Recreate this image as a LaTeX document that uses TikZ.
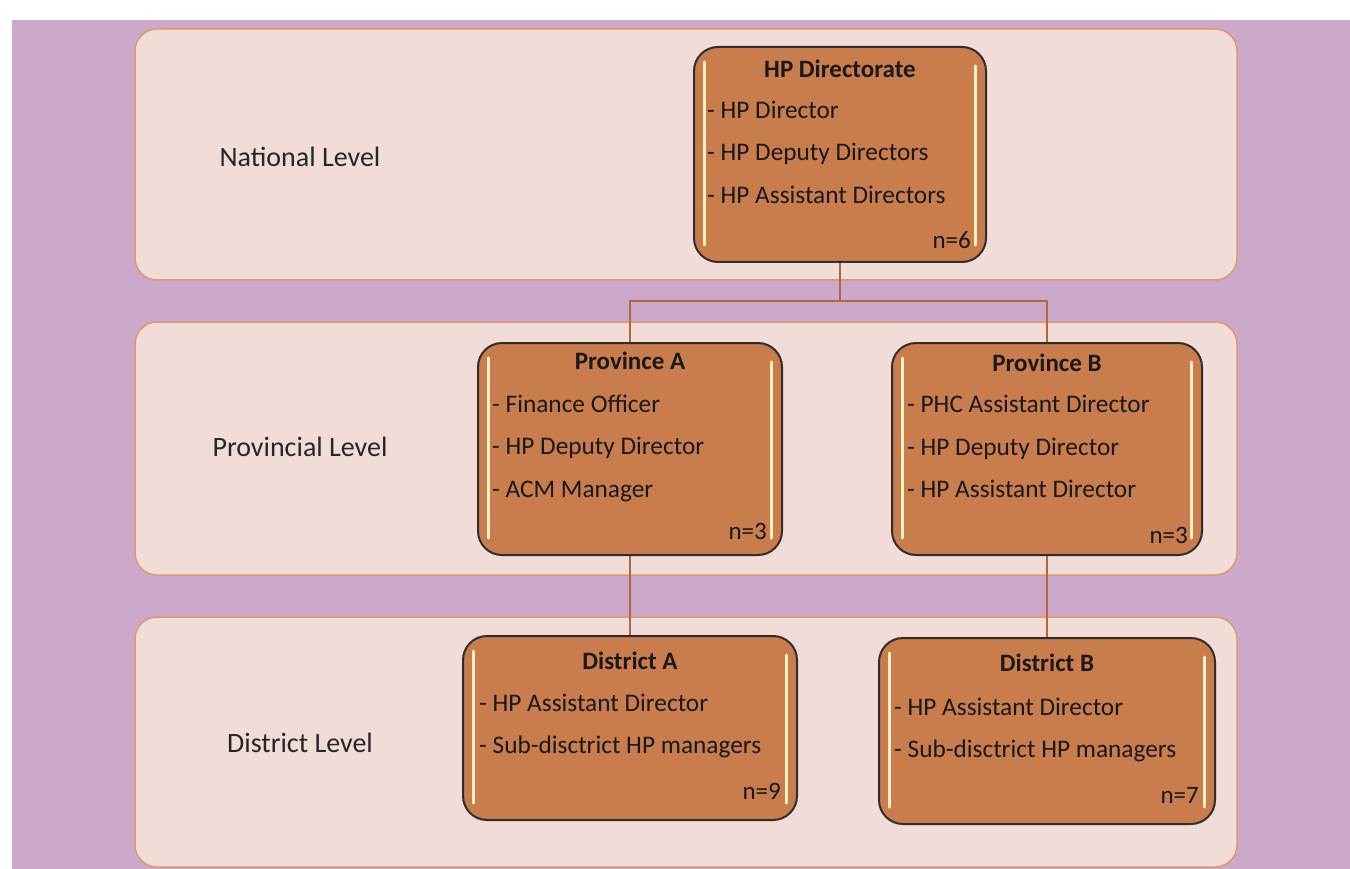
\documentclass[tikz,border=0pt]{standalone}
\usepackage{fontspec}
\setmainfont{Carlito}
\usetikzlibrary{positioning,calc}
\definecolor{bgpurple}{HTML}{CCA9CB}
\definecolor{bandfill}{HTML}{F2DCD7}
\definecolor{bandline}{HTML}{E0996C}
\definecolor{boxfill}{HTML}{C97D4D}
\definecolor{boxline}{HTML}{2E2E2E}
\definecolor{linkline}{HTML}{AD6842}
\definecolor{hilite}{HTML}{FFF3C4}
\tikzset{
  band/.style={draw=bandline,line width=1.5pt,fill=bandfill,rounded corners=22pt,
               minimum width=1102pt,inner sep=0pt},
  lvl/.style={font=\fontsize{28}{34}\selectfont,text=black!85,inner sep=0pt},
  unit/.style={draw=boxline,line width=2pt,fill=boxfill,rounded corners=24pt,inner sep=0pt},
  ttl/.style={font=\fontsize{25}{30}\selectfont\bfseries,text=black!90,inner sep=0pt,anchor=base},
  item/.style={font=\fontsize{25.3}{30}\selectfont,text=black!90,inner sep=0pt,anchor=base west},
  cnt/.style={font=\fontsize{25}{30}\selectfont,text=black!90,inner sep=0pt,anchor=base east},
  link/.style={draw=linkline,line width=2.8pt},
  shine/.style={draw=hilite,line width=3pt,line cap=round},
}
\begin{document}
\begin{tikzpicture}[x=1pt,y=-1pt]
\useasboundingbox (0,0) rectangle (1350,869);
\fill[white] (0,0) rectangle (1350,869);
\fill[bgpurple] (12,20) rectangle (1350,869);

% level bands
\node[band,minimum height=251pt] (nat) at (686,154.5) {};
\node[band,minimum height=253pt] (prv) at (686,448.5) {};
\node[band,minimum height=250pt] (dst) at (686,742) {};

\node[lvl] (nat-l) at (300,157) {National Level};
\node[lvl] (prv-l) at (300,447) {Provincial Level};
\node[lvl] (dst-l) at (300,743) {District Level};

% units
\node[unit,minimum width=292pt,minimum height=215pt] (dir) at (840,154.5) {};
\node[unit,minimum width=304pt,minimum height=212pt] (pa) at (630,449) {};
\node[unit,minimum width=310pt,minimum height=212pt] (pb) at (1047,449) {};
\node[unit,minimum width=334pt,minimum height=184pt] (da) at (630,728) {};
\node[unit,minimum width=336pt,minimum height=186pt] (db) at (1047,731) {};

\foreach \b in {dir,pa,pb,da,db} {
  \draw[shine] ($(\b.north west)+(11,16)$) -- ($(\b.south west)+(11,-18)$);
  \draw[shine] ($(\b.north east)+(-12,20)$) -- ($(\b.south east)+(-12,-18)$);
}

% national
\node[ttl] (dir-t) at ($(dir.north)+(0,32)$) {HP Directorate};
\foreach \t [count=\i] in {HP Director,HP Deputy Directors,HP Assistant Directors}
  \node[item] (dir-\i) at ($(dir.north west)+(14,30+42.5*\i)$) {- \t};
\node[cnt] (dir-n) at ($(dir.south east)+(-16,-14)$) {n=6};

% provincial
\node[ttl] (pa-t) at ($(pa.north)+(0,27)$) {Province A};
\foreach \t [count=\i] in {Finance Officer,HP Deputy Director,ACM Manager}
  \node[item] (pa-\i) at ($(pa.north west)+(15,27.5+42.5*\i)$) {- \t};
\node[cnt] (pa-n) at ($(pa.south east)+(-16,-17)$) {n=3};

\node[ttl] (pb-t) at ($(pb.north)+(0,29)$) {Province B};
\foreach \t [count=\i] in {PHC Assistant Director,HP Deputy Director,HP Assistant Director}
  \node[item] (pb-\i) at ($(pb.north west)+(16,28+42.5*\i)$) {- \t};
\node[cnt] (pb-n) at ($(pb.south east)+(-15,-13)$) {n=3};

% district
\node[ttl] (da-t) at ($(da.north)+(0,34)$) {District A};
\foreach \t [count=\i] in {HP Assistant Director,Sub-disctrict HP managers}
  \node[item] (da-\i) at ($(da.north west)+(17,34+42*\i)$) {- \t};
\node[cnt] (da-n) at ($(da.south east)+(-17,-22)$) {n=9};

\node[ttl] (db-t) at ($(db.north)+(0,34)$) {District B};
\foreach \t [count=\i] in {HP Assistant Director,Sub-disctrict HP managers}
  \node[item] (db-\i) at ($(db.north west)+(16,36+42*\i)$) {- \t};
\node[cnt] (db-n) at ($(db.south east)+(-17,-22)$) {n=7};

% links
\coordinate (bus) at (840,301);
\draw[link] (dir.south) -- (bus) -| (pa.north);
\draw[link] (bus) -| (pb.north);
\draw[link] (pa.south) -- (da.north);
\draw[link] (pb.south) -- (db.north);

\end{tikzpicture}
\end{document}
